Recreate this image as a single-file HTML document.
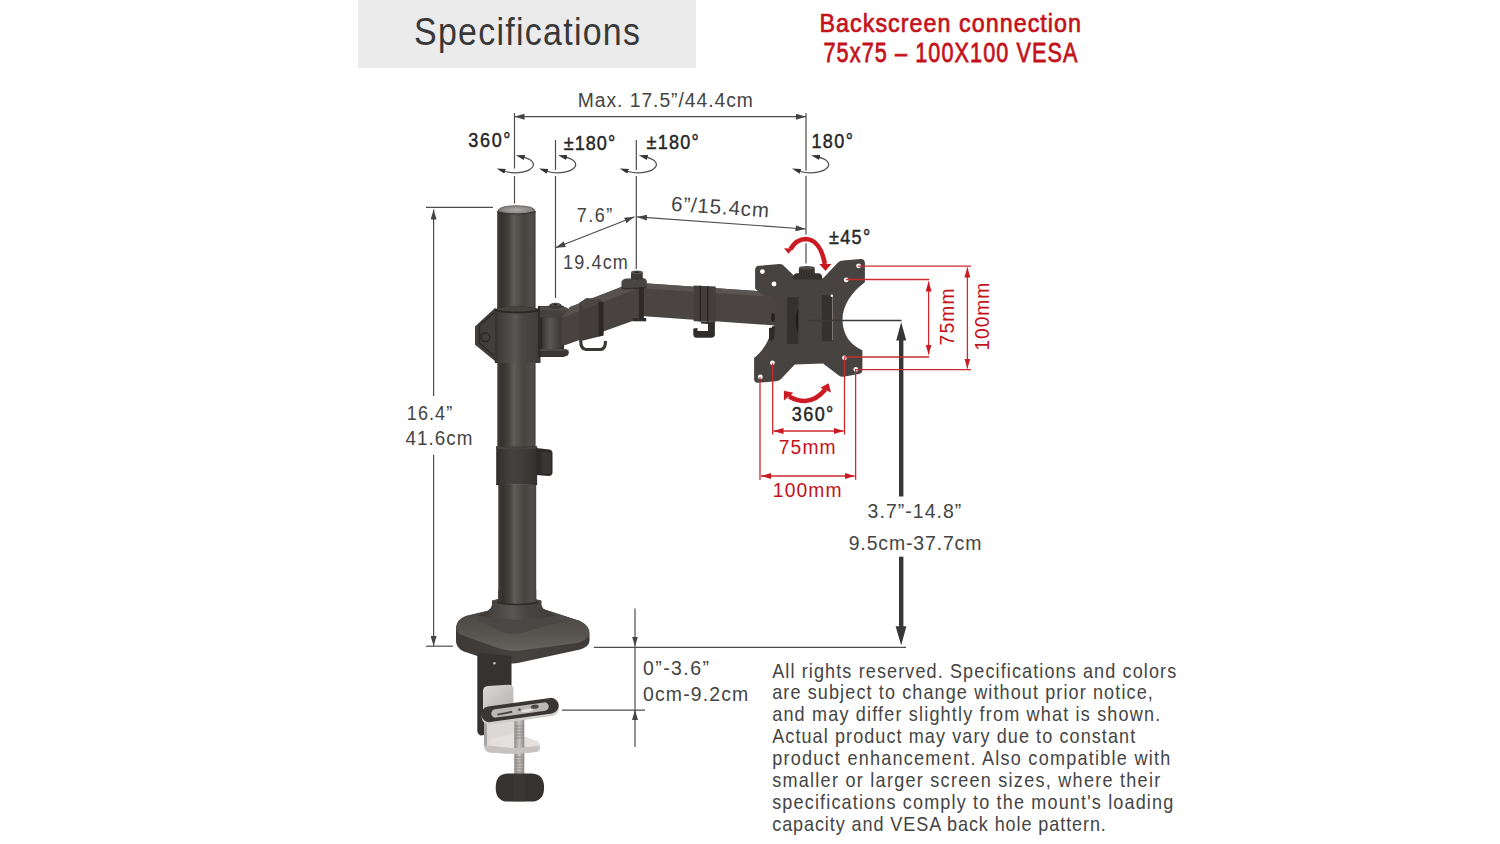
<!DOCTYPE html>
<html>
<head>
<meta charset="utf-8">
<style>
html,body{margin:0;padding:0;background:#fff;width:1500px;height:844px;overflow:hidden;}
svg{display:block;}
text{font-family:"Liberation Sans",sans-serif;}
.dim{fill:#444;font-size:20.5px;}
.bd{fill:#262626;font-size:20.5px;stroke:#262626;stroke-width:0.45px;}
.red{fill:#c4121b;}
</style>
</head>
<body>
<svg width="1500" height="844" viewBox="0 0 1500 844">
<defs>
  <marker id="ah" viewBox="0 0 10 6" refX="10" refY="3" markerWidth="10" markerHeight="6" markerUnits="userSpaceOnUse" orient="auto-start-reverse">
    <path d="M0,0 L10,3 L0,6 Z" fill="#444"/>
  </marker>
  <marker id="ahr" viewBox="0 0 10 6" refX="10" refY="3" markerWidth="10" markerHeight="6" markerUnits="userSpaceOnUse" orient="auto-start-reverse">
    <path d="M0,0 L10,3 L0,6 Z" fill="#cc1a22"/>
  </marker>
  <marker id="ahs" viewBox="0 0 9 5" refX="0.5" refY="2.5" markerWidth="9" markerHeight="5" markerUnits="userSpaceOnUse" orient="auto-start-reverse">
    <path d="M0,0 L9,2.5 L0,5 Z" fill="#333"/>
  </marker>
  <linearGradient id="pole" x1="0" x2="1" y1="0" y2="0">
    <stop offset="0" stop-color="#3e3a37"/>
    <stop offset="0.13" stop-color="#35322e"/>
    <stop offset="0.3" stop-color="#46423e"/>
    <stop offset="0.43" stop-color="#5f5b59"/>
    <stop offset="0.55" stop-color="#534f4c"/>
    <stop offset="0.7" stop-color="#47433f"/>
    <stop offset="0.9" stop-color="#524e4b"/>
    <stop offset="1" stop-color="#46423f"/>
  </linearGradient>
  <linearGradient id="collar" x1="0" x2="1" y1="0" y2="0">
    <stop offset="0" stop-color="#363230"/>
    <stop offset="0.1" stop-color="#403c3a"/>
    <stop offset="0.45" stop-color="#5a5654"/>
    <stop offset="0.6" stop-color="#4a4643"/>
    <stop offset="0.9" stop-color="#433f3c"/>
    <stop offset="1" stop-color="#383432"/>
  </linearGradient>
  <linearGradient id="lcollar" x1="0" x2="1" y1="0" y2="0">
    <stop offset="0" stop-color="#332f2d"/>
    <stop offset="0.4" stop-color="#45413e"/>
    <stop offset="0.6" stop-color="#413d3a"/>
    <stop offset="1" stop-color="#35312f"/>
  </linearGradient>
  <linearGradient id="cyl" x1="0" x2="1" y1="0" y2="0">
    <stop offset="0" stop-color="#3a3634"/>
    <stop offset="0.4" stop-color="#5a5654"/>
    <stop offset="1" stop-color="#3c3836"/>
  </linearGradient>
  <radialGradient id="dome" cx="0.5" cy="0.55" r="0.55">
    <stop offset="0" stop-color="#aeaaa8"/>
    <stop offset="0.7" stop-color="#8a8684"/>
    <stop offset="1" stop-color="#55514f"/>
  </radialGradient>
  <linearGradient id="silver" x1="0" x2="1" y1="0" y2="1">
    <stop offset="0" stop-color="#dcd9d6"/>
    <stop offset="1" stop-color="#b3afac"/>
  </linearGradient>
  <linearGradient id="silver2" x1="0" x2="0" y1="0" y2="1">
    <stop offset="0" stop-color="#d6d3d0"/>
    <stop offset="1" stop-color="#bdb9b6"/>
  </linearGradient>
  <linearGradient id="screw" x1="0" x2="1" y1="0" y2="0">
    <stop offset="0" stop-color="#8d8986"/>
    <stop offset="0.5" stop-color="#c9c5c2"/>
    <stop offset="1" stop-color="#8a8683"/>
  </linearGradient>
  <linearGradient id="basetop" x1="0" x2="0" y1="0" y2="1">
    <stop offset="0" stop-color="#4a4643"/>
    <stop offset="0.6" stop-color="#57534f"/>
    <stop offset="1" stop-color="#66625e"/>
  </linearGradient>
  <linearGradient id="baseside" x1="0" x2="1" y1="0" y2="0">
    <stop offset="0" stop-color="#3c3936"/>
    <stop offset="0.5" stop-color="#46423f"/>
    <stop offset="1" stop-color="#3e3a38"/>
  </linearGradient>
</defs>

<!-- header box -->
<rect x="358" y="0" width="338" height="68" fill="#ebebeb"/>
<text transform="translate(414,44.6) scale(0.86,1)" textLength="262.8" lengthAdjust="spacing" font-size="39.5" fill="#383838">Specifications</text>

<!-- red title -->
<text transform="translate(819.5,31.8) scale(0.88,1)" textLength="297.2" lengthAdjust="spacing" class="red" font-size="26.5" stroke="#c4121b" stroke-width="0.7">Backscreen connection</text>
<text transform="translate(823.5,61.5) scale(0.8,1)" textLength="317.5" lengthAdjust="spacing" class="red" font-size="27" stroke="#c4121b" stroke-width="0.75">75x75 – 100X100 VESA</text>


<g fill="none" stroke="#4d4d4d" stroke-width="1.2">
  <!-- top max dimension -->
  <line x1="514.5" y1="116.7" x2="806" y2="116.7" marker-start="url(#ah)" marker-end="url(#ah)"/>
  <path d="M514.5,113 V168.5 M514.5,176 V203.5"/>
  <path d="M555.5,140 V170 M555.5,176 V298"/>
  <path d="M636.3,140 V170 M636.3,176 V269"/>
  <path d="M806,113 V170.8 M806,175.8 V234.5 M806,243.3 V263.5"/>
  <!-- rotation symbols -->
  <path d="M504.7,171.2 A18 8.2 0 1 0 524.0,157.4" marker-start="url(#ahs)" marker-end="url(#ahs)"/>
  <path d="M547.0,171.2 A18 8.2 0 1 0 566.3,157.4" marker-start="url(#ahs)" marker-end="url(#ahs)"/>
  <path d="M627.7,171.2 A18 8.2 0 1 0 647.0,157.4" marker-start="url(#ahs)" marker-end="url(#ahs)"/>
  <path d="M800.0,171.2 A18 8.2 0 1 0 819.3,157.4" marker-start="url(#ahs)" marker-end="url(#ahs)"/>
  <!-- 7.6 diagonal -->
  <line x1="555.6" y1="247.8" x2="634.5" y2="216.8" marker-start="url(#ah)" marker-end="url(#ah)"/>
  <!-- 6in -->
  <line x1="637" y1="216.9" x2="805.5" y2="229" marker-start="url(#ah)" marker-end="url(#ah)"/>
  <!-- height -->
  <path d="M426,207.4 H493"/>
  <path d="M433.6,209.5 V396" marker-start="url(#ah)"/>
  <path d="M433.6,454.7 V646" marker-end="url(#ah)"/>
  <path d="M426,646.2 H453"/>
  <!-- 0-3.6 -->
  <path d="M635,608.5 V646.5" marker-end="url(#ah)"/>
  <path d="M635,710 V747" marker-start="url(#ah)"/>
  <path d="M635,646.5 V710"/>
  <path d="M593.8,647.4 H906"/>
  <path d="M562,710.2 H645"/>
</g>
<!-- thick black arrow -->
<g fill="#363636">
  <rect x="899" y="338" width="4.4" height="158.5"/>
  <rect x="899" y="556.7" width="4.4" height="71"/>
  <path d="M901.2,322 L906.2,340.5 L896.2,340.5 Z"/>
  <path d="M901.2,645.2 L906.4,626.3 L895.6,626.3 Z"/>
</g>




<g id="product">
  <!-- pole upper -->
  <rect x="497.2" y="211" width="38.4" height="101" fill="url(#pole)"/>
  <path d="M497.2,211.5 Q498,205.2 516.4,205.2 Q534.8,205.2 535.6,211.5 Q516.4,216.5 497.2,211.5 Z" fill="url(#dome)"/>
  <path d="M497.4,211.8 Q516.4,216.2 535.4,211.8" fill="none" stroke="#3a3634" stroke-width="1.2"/>
  <!-- pole middle -->
  <rect x="497.3" y="360" width="38.3" height="90" fill="url(#pole)"/>
  <!-- lower collar -->
  <rect x="496.2" y="446.3" width="40.9" height="38.5" fill="url(#lcollar)"/>
  <path d="M496.2,446.3 Q516.6,449 537.1,446.3 L537.1,448.5 Q516.6,451 496.2,448.5 Z" fill="#46423f"/>
  <path d="M496.2,483.5 Q516.6,486.5 537.1,483.5 L537.1,485 Q516.6,488 496.2,485 Z" fill="#2c2826"/>
  <path d="M536,448 L549.5,449.5 Q552.5,450.5 552.5,453 L552.5,473 Q552,476 548.5,476 L536,475 Z" fill="#2f2b29"/>
  <path d="M541.5,452 L551,452.5 L551,473.5 L541.5,473 Z" fill="#3a3633"/>
  <!-- pole lower -->
  <rect x="498.3" y="484.5" width="37.9" height="118" fill="url(#pole)"/>
  <!-- base -->
  <path d="M456,628 Q457,619 466,616 L491,610 L543,609 L580,621 Q589.5,626 589.5,634 L589.5,641 Q589,647 580,649.5 L518,663 Q505,664.5 495,662 L464,651.5 Q456,648 456,641 Z" fill="url(#baseside)"/>
  <path d="M456,628 Q457,619 466,616 L491,610 L543,609 L580,621 Q589.5,626 589.5,633 Q588.5,640 578,643 L520,650.5 Q510,651.5 501,649 L464,636 Q456,633 456,628 Z" fill="url(#basetop)"/>
  <path d="M476,619.5 L492,611 L542,610.5 L563,621.5 L520,633.5 Q512,634.5 504,632.5 Z" fill="#4b4744"/>
  <path d="M492,600.5 Q516.8,593.5 541.5,600.5 L541.5,605 Q542.5,611 556,615.5 Q516.8,624 478,615.5 Q491,611 492,605 Z" fill="url(#collar)"/>
  <path d="M492.5,600.5 Q516.8,594 541,600.5 Q516.8,606 492.5,600.5 Z" fill="#4e4a47"/>
  <path d="M497,601 Q517,597 537.5,601 L537.5,603.5 Q517,607.5 497,603.5 Z" fill="#2f2b29"/>
  <path d="M498.3,590 L536.2,590 L536.2,602 Q517,605.5 498.3,602 Z" fill="url(#pole)"/>
  <!-- clamp -->
  <path d="M477.3,653 L511.5,656 L511.5,686 L484,691 L484,735 L480.5,735.5 Q477.3,734 477.3,730 Z" fill="#363230"/>
  <circle cx="494.4" cy="663.3" r="1.3" fill="#bbb"/>
  <path d="M483,691 Q483,686.5 488,686 L508,684.8 Q513.4,684.5 513.4,689 L513.4,706 L483,712 Z" fill="url(#silver)"/>
  <path d="M484,712 L513.7,706 L513.7,733 L536,741 Q539.6,742.5 539.6,745 L539.6,748.5 Q539.4,751 536,752 L516,754 L490,752.5 Q484,751.5 484,745 Z" fill="#cdc9c6"/>
  <path d="M486,722 L513.7,722 L513.7,733 L536,741 Q539.6,742.5 539.6,745 L539.6,747.5 L513,749.5 L490,747 Q486,746 486,742 Z" fill="#dcd8d5"/>
  <path d="M490,739 L513.7,733 L536,741 Q539.6,742.5 539.6,745 L513,748 L491,745.5 Z" fill="#e3e0dd"/>
  <path d="M484,712 L487,712 L487,748 L484,745 Z" fill="#a8a4a1"/>
  <rect x="514.3" y="719" width="10" height="57" fill="url(#screw)"/>
  <g stroke="#8d8986" stroke-width="0.9">
    <path d="M514.5,726 H524 M514.5,729 H524 M514.5,732 H524 M514.5,735 H524 M514.5,738 H524 M514.5,757 H524 M514.5,760 H524 M514.5,763 H524 M514.5,766 H524 M514.5,769 H524 M514.5,772 H524"/>
  </g>
  <path d="M486,745.5 L513,748.3 L539.6,746 L539.6,748.5 Q539.4,751 536,752 L516,754 L490,752.5 Q485,751.5 484.5,747 Z" fill="#c6c2bf"/>
  <g transform="rotate(-8 520 710)">
    <rect x="481" y="704" width="78" height="16.5" rx="8.25" fill="#d2cecb"/>
    <rect x="481" y="702.2" width="78" height="15.6" rx="7.8" fill="#3a3634"/>
    <rect x="491" y="705.8" width="58" height="8.4" rx="4.2" fill="#bcb8b5"/>
    <path d="M497,710.5 L512,709.6 L512,711.6 L497,712.4 Z" fill="#4a4644"/>
    <circle cx="519.5" cy="709.6" r="1.4" fill="#5a5654"/>
    <ellipse cx="535" cy="708.8" rx="4" ry="2" fill="#4f4b48"/>
    <ellipse cx="527" cy="711.5" rx="6" ry="1.5" fill="#e4e1de"/>
  </g>
  <path d="M495.7,787.5 Q495.7,773.5 508,773.5 L531,773.5 Q544.1,773.5 544.1,787.5 Q544.1,801.6 531,801.6 L508,801.6 Q495.7,801.6 495.7,787.5 Z" fill="#36322f"/>
  <path d="M513,774 L525,774 L525,801.3 L513,801.3 Z" fill="#3a3633"/>
  <!-- upper collar + left bracket -->
  <path d="M495.5,307.4 L475,326.5 L475,344.8 L495.5,361.4 Z" fill="#423e3b"/>
  <path d="M494,312.8 L479.5,325.5 L479.5,343 L494,356" fill="none" stroke="#2c2826" stroke-width="1.2"/>
  <circle cx="485.4" cy="337.3" r="4.4" fill="#433f3d" stroke="#2a2624" stroke-width="1.4"/>
  <rect x="494.9" y="309.5" width="45.6" height="53.5" fill="url(#collar)"/>
  <path d="M494.9,309 Q517.7,303.5 540.5,309 L540.5,311 Q517.7,316 494.9,311 Z" fill="#2c2826"/>
  <path d="M497.4,308.2 Q516.5,305 535.6,308.2 L535.6,310 Q516.5,313 497.4,310 Z" fill="#47433f"/>
  <!-- right bracket -->
  <rect x="538" y="306" width="26" height="51" fill="#2e2a28"/>
  <path d="M540,306.4 L564,307 Q568.8,307.8 568.8,312 Q568.8,317.4 564,317.4 L540,317.4 Z" fill="#45413e"/>
  <path d="M540,306.4 L564,307 Q568.8,307.8 568.8,310.5 L540,310 Z" fill="#524e4b"/>
  <ellipse cx="555.5" cy="305.8" rx="6.5" ry="3" fill="#3e3a38"/>
  <ellipse cx="555.5" cy="304.6" rx="4.5" ry="1.6" fill="#56524f"/>
  <ellipse cx="555.5" cy="304.6" rx="2" ry="0.9" fill="#2a2624"/>
  <rect x="540.5" y="317.4" width="2" height="31.6" fill="#2c2826"/>
  <rect x="542.2" y="317.4" width="19.1" height="31.6" fill="url(#cyl)"/>
  <path d="M540.5,349 L564,349 Q568.8,349.5 568.8,352.5 Q568.8,356.4 564,356.4 L540.5,356.4 Z" fill="#3b3735"/>
  <path d="M540.5,349 L564,349 Q568.8,349.5 568.8,351 L540.5,351 Z" fill="#4e4a47"/>
  <!-- arm seg 1 -->
  <path d="M561.3,318 L570,307 L625,285.5 L641,287.5 L641,318 L561.3,346.5 Z" fill="#484340"/>
  <path d="M561.3,318 L570,307 L625,285.5 L641,287.5 Z" fill="#57524f"/>
  <!-- collar 1 -->
  <path d="M579.2,303 L586.5,298.2 L600,299.3 L603.4,302.2 L603.4,335.4 L579.2,341.5 Z" fill="#423e3b"/>
  <path d="M579.2,303 L586.5,298.2 L600,299.3 L603.4,302.2 L583,309 Z" fill="#4a4643"/>
  <path d="M598.5,301.5 L603.4,302.2 L603.4,335.4 L598.5,336.5 Z" fill="#2c2826"/>
  <path d="M580.8,340.5 Q580.5,349 586,349.5 L601,349.5 Q605.5,349 605.5,341" fill="none" stroke="#3a3634" stroke-width="3.2"/>
  <!-- arm seg 2 -->
  <path d="M641,283 L764,291.6 L771,296.6 L782,297 L782,326 L641,316 Z" fill="#4a4542"/>
  <path d="M641,283 L764,291.6 L771,296.6 L641,288.2 Z" fill="#5a5552"/>
  <!-- collar 2 -->
  <path d="M693.7,285.4 L715.7,286.6 L715.7,322 L693.7,321.3 Z" fill="#433f3c"/>
  <path d="M699.5,285.7 L701,285.8 L701,321.5 L699.5,321.4 Z" fill="#2a2624"/>
  <path d="M707,286.2 L708.5,286.3 L708.5,321.8 L707,321.7 Z" fill="#2a2624"/>
  <path d="M701,321.5 L714.9,322 L714.9,335 Q714.5,337.7 711,337.7 L696.5,337.7 Q693.3,337.5 693.3,334 L693.3,328.5 L697.5,328 L697.5,331 L708,331 L708,324 L701,323.5 Z" fill="#312d2b"/>
  <!-- mid joint -->
  <path d="M621.4,282 Q622.5,278.8 627,278.5 L642,278 Q646.8,278.2 646.8,281.5 L646.8,284 Q646.5,287.5 642,287.5 L625,288 Q621.4,288 621.4,285 Z" fill="#4a4643"/>
  <path d="M621.4,285 Q621.4,288 625,288 L642,287.5 Q646.5,287.5 646.8,284 L646.8,286 Q646.5,289 642,289 L625,289.5 Q621.4,289.5 621.4,287 Z" fill="#332f2d"/>
  <rect x="631" y="271.8" width="11.8" height="8" rx="1.5" fill="#3c3836"/>
  <ellipse cx="636.9" cy="272.3" rx="5.9" ry="1.8" fill="#5a5653"/>
  <ellipse cx="636.9" cy="272.3" rx="2.6" ry="0.9" fill="#2a2624"/>
  <rect x="638.9" y="287" width="5" height="31" fill="#2e2a28"/>
  <path d="M632.7,318 L646.2,318 L646.2,321.3 L632.7,321.3 Z" fill="#312d2b"/>
  <!-- VESA plate -->
  <path d="M759,265.8 L779.5,264.1 Q782.5,264 784.5,266.5 L794.8,276.5 L823,278.2 L838,262.5 Q840,260.8 843,260.6 L860.5,259.1 Q864.9,259 864.9,263 L864.9,282.3
    C852,292 842.5,305 842.5,319.7 C842.5,334 850,345 862.4,350.3 L862.4,370 Q862.4,373.5 858.5,374 L843.5,376.8 Q840.5,377 838.5,375.2 L823,363.6 L794.8,364.4 L780.5,379.5 Q778.5,381.3 775.5,381.3 L758,382.7 Q754.1,382.8 754.1,379 L754.1,358
    C762,352 770.5,340 772,326.5 L775,325 L771,296.6 L763.8,295.7 L755.1,288.7 L755.1,270 Q755.1,266 759,265.8 Z" fill="#474341"/>
  <ellipse cx="773" cy="317.3" rx="1.8" ry="4.5" fill="#242020"/>
  <path d="M769,328 L775,327 L774,340 L769,341 Z" fill="#2e2a28"/>
  <!-- tilt knob -->
  <path d="M793.6,276 Q794,273.2 797,273.2 L818,273.2 Q822,273.5 822,276.5 L822,279.5 L793.6,279.5 Z" fill="#35312f"/>
  <rect x="798.8" y="267.4" width="16" height="8" rx="1.5" fill="#3a3634"/>
  <ellipse cx="806.8" cy="267.9" rx="8" ry="1.9" fill="#4f4b48"/>
  <g stroke="#2a2624" stroke-width="0.7"><path d="M801.5,269 V275 M804,269.3 V275.3 M806.8,269.5 V275.5 M809.5,269.3 V275.3 M812,269 V275"/></g>
  <!-- slots -->
  <path d="M787.3,297.2 L798.4,297.2 L798.2,344 L787,344 Z" fill="#353130"/>
  <path d="M798.3,309 Q793,320 798.2,333 Z" fill="#1f1c1b"/>
  <path d="M821.9,295 L832.5,295 L832.5,341.2 L821.9,341.2 Z" fill="#353130"/>
  <path d="M832,295.5 L833,295.5 L833,340 L832,340 Z" fill="#7a7674"/>
  <circle cx="831.8" cy="295.8" r="1.3" fill="#eee"/>
  <!-- holes -->
  <g fill="#fff">
    <circle cx="762.4" cy="271.6" r="2.4"/>
    <circle cx="774" cy="284" r="2.4"/>
    <circle cx="858.6" cy="265.8" r="2.4"/>
    <circle cx="846.2" cy="279.9" r="2.4"/>
    <circle cx="844.5" cy="357.8" r="2.4"/>
    <circle cx="855.8" cy="369.4" r="2.4"/>
    <circle cx="772.4" cy="362.8" r="2.4"/>
    <circle cx="760.3" cy="376.9" r="2.4"/>
  </g>
</g>
<!-- red dims -->
<g fill="none" stroke="#cd2a30" stroke-width="1.3">
  <path d="M858,266.1 H971 M846,279.5 H929.2 M844,357 H929.2 M856,369.7 H971"/>
  <line x1="928.6" y1="281.5" x2="928.6" y2="354.5" marker-start="url(#ahr)" marker-end="url(#ahr)"/>
  <line x1="967.4" y1="267.5" x2="967.4" y2="368.5" marker-start="url(#ahr)" marker-end="url(#ahr)"/>
  <path d="M760,377 V479.7 M772.7,363 V434.6 M844.5,358 V434.6 M855.6,369 V479.7"/>
  <line x1="773.5" y1="431" x2="843.7" y2="431" marker-start="url(#ahr)" marker-end="url(#ahr)"/>
  <line x1="761" y1="476" x2="854.6" y2="476" marker-start="url(#ahr)" marker-end="url(#ahr)"/>
</g>
<path d="M808,320.5 H901.5" stroke="#3a3a3a" stroke-width="1.3" fill="none"/>
<!-- red arcs -->
<g fill="#cc1a22">
  <path d="M790.5,249 C795,241.5 800,239 806,239 C815,239.5 822,248 824.8,264" fill="none" stroke="#cc1a22" stroke-width="4.6"/>
  <path d="M784,248.2 L788.5,253.7 L793.1,248.5 Z"/>
  <path d="M819.3,264.1 L831.4,264.1 L825.5,271 Z"/>
  <path d="M789,396.5 C796,400.5 800,401 805,401 C814,400.5 820,396 825.3,389.5" fill="none" stroke="#cc1a22" stroke-width="4.4"/>
  <path d="M783.9,390.7 L793.4,392.8 L783.9,400.5 Z"/>
  <path d="M820.3,387.7 L828.6,383.3 L831,392.5 Z"/>
</g>



<g class="dim">
  <text transform="translate(577.7,107.3) scale(0.92,1)" textLength="190.5" lengthAdjust="spacing" font-size="21">Max. 17.5”/44.4cm</text>
  <text transform="translate(563.7,149.6) scale(0.88,1)" textLength="58.5" lengthAdjust="spacing" class="bd">±180°</text>
  <text transform="translate(646.5,149.2) scale(0.88,1)" textLength="59.3" lengthAdjust="spacing" class="bd">±180°</text>
  <text transform="translate(468.3,147.3) scale(0.88,1)" textLength="48.0" lengthAdjust="spacing" class="bd">360°</text>
  <text transform="translate(811.5,147.5) scale(0.88,1)" textLength="47.0" lengthAdjust="spacing" class="bd">180°</text>
  <text transform="translate(576.8,221.7) scale(0.88,1)" textLength="40.2" lengthAdjust="spacing">7.6”</text>
  <text transform="translate(563.1,268.6) scale(0.88,1)" textLength="73.5" lengthAdjust="spacing">19.4cm</text>
  <text transform="translate(670.7,210.7) rotate(3.9) scale(1.0,1)" textLength="98.0" lengthAdjust="spacing">6”/15.4cm</text>
  <text transform="translate(829.0,244.4) scale(0.88,1)" textLength="46.8" lengthAdjust="spacing" class="bd">±45°</text>
  <text transform="translate(406.8,419.7) scale(0.88,1)" textLength="51.6" lengthAdjust="spacing">16.4”</text>
  <text transform="translate(405.4,445.2) scale(0.92,1)" textLength="72.9" lengthAdjust="spacing">41.6cm</text>
  <text transform="translate(867.6,517.6) scale(0.95,1)" textLength="98.6" lengthAdjust="spacing">3.7”-14.8”</text>
  <text transform="translate(848.7,549.6) scale(0.95,1)" textLength="139.7" lengthAdjust="spacing">9.5cm-37.7cm</text>
  <text transform="translate(643.0,674.9) scale(0.95,1)" textLength="69.4" lengthAdjust="spacing">0”-3.6”</text>
  <text transform="translate(643.0,700.5) scale(0.95,1)" textLength="110.9" lengthAdjust="spacing">0cm-9.2cm</text>
  <text transform="translate(791.8,420.6) scale(0.88,1)" textLength="47.2" lengthAdjust="spacing" class="bd">360°</text>
</g>
<g class="red" font-size="20.5">
  <text transform="translate(778.8,453.6) scale(0.94,1)" textLength="60.5" lengthAdjust="spacing">75mm</text>
  <text transform="translate(772.8,497.4) scale(0.94,1)" textLength="73.1" lengthAdjust="spacing">100mm</text>
  <text transform="translate(953.6,345.5) rotate(-90) scale(0.94,1)" textLength="60.7" lengthAdjust="spacing">75mm</text>
  <text transform="translate(989.3,350.5) rotate(-90) scale(0.94,1)" textLength="72.2" lengthAdjust="spacing">100mm</text>
</g>
<g class="dim" font-size="21">
  <text transform="translate(772.2,677.5) scale(0.88,1)" textLength="459.1" lengthAdjust="spacing">All rights reserved. Specifications and colors</text>
  <text transform="translate(772.2,699.4) scale(0.88,1)" textLength="432.5" lengthAdjust="spacing">are subject to change without prior notice,</text>
  <text transform="translate(772.2,721.3) scale(0.88,1)" textLength="440.9" lengthAdjust="spacing">and may differ slightly from what is shown.</text>
  <text transform="translate(772.2,743.2) scale(0.88,1)" textLength="412.5" lengthAdjust="spacing">Actual product may vary due to constant</text>
  <text transform="translate(772.2,765.1) scale(0.88,1)" textLength="452.3" lengthAdjust="spacing">product enhancement. Also compatible with</text>
  <text transform="translate(772.2,787) scale(0.88,1)" textLength="440.9" lengthAdjust="spacing">smaller or larger screen sizes, where their</text>
  <text transform="translate(772.2,808.9) scale(0.88,1)" textLength="455.7" lengthAdjust="spacing">specifications comply to the mount's loading</text>
  <text transform="translate(772.2,830.8) scale(0.88,1)" textLength="379.2" lengthAdjust="spacing">capacity and VESA back hole pattern.</text>
</g>


</svg>
</body>
</html>
